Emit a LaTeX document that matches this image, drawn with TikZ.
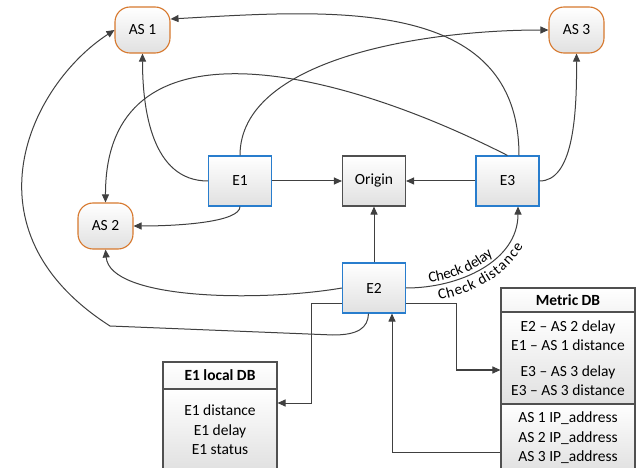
\documentclass[tikz,border=0pt]{standalone}
\usepackage{fontspec}
\setmainfont{Carlito}
\usetikzlibrary{arrows.meta,decorations.text}
\definecolor{edgeblue}{RGB}{40,125,205}
\definecolor{asorange}{RGB}{215,120,45}
\definecolor{linegray}{RGB}{64,64,64}
\definecolor{boxgray}{RGB}{80,80,80}
\tikzset{
  base/.style={draw, line width=1.1pt, top color=white, bottom color=black!12,
    font=\fontsize{15.5}{18}\selectfont, inner sep=0pt, align=center},
  asbox/.style={base, draw=asorange, rounded corners=15pt,
    minimum width=55pt, minimum height=46pt},
  edgebox/.style={base, draw=edgeblue, minimum width=63pt, minimum height=50pt},
  originbox/.style={base, draw=boxgray, minimum width=63pt, minimum height=50pt},
  dbhead/.style={base, draw=boxgray, top color=white, bottom color=black!4,
    font=\fontsize{15.5}{18}\selectfont\bfseries},
  dbbody/.style={base, draw=boxgray, font=\fontsize{15.5}{19.5}\selectfont},
  conn/.style={draw=linegray, line width=1pt, -{Triangle[length=8pt,width=7pt]}},
}
\begin{document}
\begin{tikzpicture}[x=1pt,y=1pt]
  \useasboundingbox (0,0) rectangle (641,-468);
  \fill[white] (0,0) rectangle (641,-468);
  \clip (0,0) rectangle (641,-468);

  % autonomous systems
  \node[asbox] (AS1) at (142.5,-30) {AS 1};
  \node[asbox] (AS3) at (576.5,-30) {AS 3};
  \node[asbox] (AS2) at (105.5,-226) {AS 2};

  % edge servers and origin
  \node[edgebox] (E1) at (240,-181) {E1};
  \node[originbox] (Origin) at (374,-181) {Origin};
  \node[edgebox] (E3) at (507.5,-181) {E3};
  \node[edgebox] (E2) at (374,-288) {E2};

  % databases
  \node[dbhead, minimum width=114pt, minimum height=27pt] (e1head) at (220,-375.5) {E1 local DB};
  \node[dbbody, minimum width=114pt, minimum height=82pt] (e1body) at (220,-430)
    {E1 distance\\E1 delay\\E1 status};
  \node[dbhead, minimum width=134pt, minimum height=24pt] (mhead) at (568,-300) {Metric DB};
  \node[dbbody, minimum width=134pt, minimum height=92pt] (msec1) at (568,-358)
    {E2 – AS 2 delay\\E1 – AS 1 distance\\[6pt]E3 – AS 3 delay\\E3 – AS 3 distance};
  \node[dbbody, minimum width=134pt, minimum height=68pt] (msec2) at (568,-438)
    {AS 1 IP\_address\\AS 2 IP\_address\\AS 3 IP\_address};

  % requests towards the origin
  \draw[conn] (E1.east) -- (Origin.west);
  \draw[conn] (E3.west) -- (Origin.east);
  \draw[conn] (E2.north) -- (Origin.south);

  % E1 links
  \draw[conn] (E1.west) to[out=180,in=-90] (AS1.south);
  \draw[conn] (E1.north) .. controls (240,-60) and (420,-30) .. (AS3.west);
  \draw[conn] (E1.south) .. controls (240,-222) and (180,-226) .. (AS2.east);

  % E3 links
  \draw[conn] ([xshift=11.5pt]E3.north) .. controls (519,5) and (330,-10) .. ([yshift=11pt]AS1.east);
  \draw[conn] (E3.north) .. controls (330,-65) and (105,-15) .. (AS2.north);
  \draw[conn] (E3.east) .. controls (572,-181) and (577,-120) .. (AS3.south);

  % E2 links
  \draw[conn] (E2.east) to[out=0,in=-90] ([xshift=10.5pt]E3.south);
  \path[decorate, decoration={text along path,
      text={|\fontsize{15}{17}\selectfont|Check delay},
      text align={left indent=24pt}, raise=3.5pt}]
    (E2.east) to[out=0,in=-90] ([xshift=10.5pt]E3.south);
  \path[decorate, decoration={text along path,
      text={|\fontsize{15}{17}\selectfont|Check distance},
      text align={left indent=30pt}, raise=-15pt}]
    (E2.east) to[out=0,in=-90] ([xshift=10.5pt]E3.south);
  \draw[conn] (E2.west) .. controls (260,-302) and (110,-300) .. (AS2.south);
  \draw[conn] ([xshift=-5.5pt]E2.south) .. controls (368,-328) and (358,-335) .. (333,-335)
    -- (110,-326) .. controls (-40,-230) and (30,-85) .. (AS1.west);

  % database links
  \draw[conn] ([yshift=-16pt]E2.west) -- ++(-30.5,0) |- ([yshift=27pt]e1body.east);
  \draw[conn] ([yshift=-16pt]E2.east) -- ++(50,0) |- ([yshift=-12pt]msec1.west);
  \draw[conn] ([yshift=-14pt]msec2.west) -| ([xshift=18pt]E2.south);
\end{tikzpicture}
\end{document}
